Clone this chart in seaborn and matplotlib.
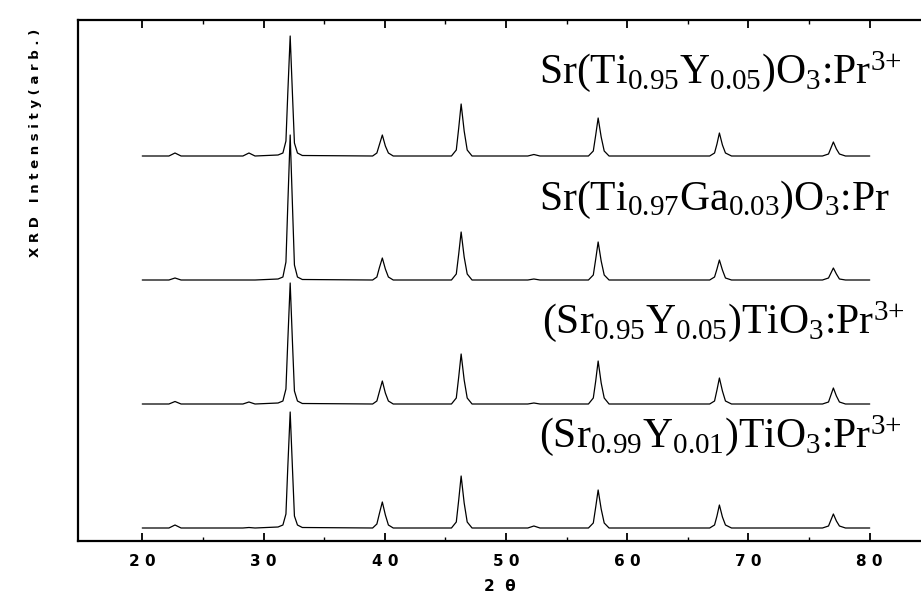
import numpy as np
import pandas as pd
import matplotlib
matplotlib.use("Agg")
import matplotlib.pyplot as plt
import seaborn as sns

# 2-theta grid (deg) shared by all four patterns
two_theta = [20.0, 22.2, 22.7, 23.2, 28.3, 28.8, 29.3, 31.2, 31.6, 31.85, 32.0, 32.2,
             32.4, 32.55, 32.8, 33.2, 39.0, 39.35, 39.55, 39.8, 40.05, 40.3, 40.7,
             45.5, 45.9, 46.1, 46.3, 46.55, 46.8, 47.2, 51.8, 52.3, 52.8, 56.8, 57.2,
             57.4, 57.6, 57.85, 58.1, 58.5, 66.8, 67.2, 67.4, 67.6, 67.85, 68.1, 68.6,
             76.1, 76.6, 76.8, 77.0, 77.25, 77.5, 78.0, 80.0]

# intensities (arb.), bottom pattern first
sr099_y001 = [0, 0, 3, 0, 0, 0.5, 0, 1, 3, 14, 60, 116, 56, 12, 3, 0.5,
              0, 4, 14, 26, 13, 3, 0, 0, 6, 28, 52, 25, 6, 0, 0, 2, 0,
              0, 5, 21, 38, 19, 5, 0, 0, 3, 12, 23, 11, 3, 0, 0, 2, 8, 14, 7, 2, 0, 0]
sr095_y005 = [0, 0, 2.5, 0, 0, 2, 0, 1, 3, 15, 62, 121, 58, 13, 3, 0.5,
              0, 3, 12, 23, 11, 3, 0, 0, 6, 27, 50, 24, 6, 0, 0, 1, 0,
              0, 6, 23, 43, 21, 6, 0, 0, 3, 14, 26, 13, 3, 0, 0, 2, 9, 16, 8, 2, 0, 0]
ti097_ga003 = [0, 0, 2, 0, 0, 0, 0, 1, 3, 18, 74, 145, 70, 15, 3, 0.5,
               0, 3, 12, 22, 11, 3, 0, 0, 6, 26, 48, 23, 6, 0, 0, 1, 0,
               0, 5, 21, 38, 19, 5, 0, 0, 3, 11, 20, 10, 2, 0, 0, 2, 7, 12, 6, 1, 0, 0]
ti095_y005 = [0, 0, 3, 0, 0, 3, 0, 1, 3, 15, 62, 120, 58, 13, 3, 0.5,
              0, 3, 11, 21, 10, 3, 0, 0, 6, 28, 52, 25, 6, 0, 0, 1.5, 0,
              0, 5, 21, 38, 19, 5, 0, 0, 3, 12, 23, 11, 3, 0, 0, 2, 8, 14, 7, 2, 0, 0]

samples = [
    r"(Sr$_{0.99}$Y$_{0.01}$)TiO$_3$:Pr$^{3{+}}$",
    r"(Sr$_{0.95}$Y$_{0.05}$)TiO$_3$:Pr$^{3{+}}$",
    r"Sr(Ti$_{0.97}$Ga$_{0.03}$)O$_3$:Pr",
    r"Sr(Ti$_{0.95}$Y$_{0.05}$)O$_3$:Pr$^{3{+}}$",
]
offsets = [13, 137, 261, 385]
patterns = [sr099_y001, sr095_y005, ti097_ga003, ti095_y005]

x_ticks = [20, 30, 40, 50, 60, 70, 80]

rows = []
for name, off, vals in zip(samples, offsets, patterns):
    for t, v in zip(two_theta, vals):
        rows.append({"two_theta": t, "intensity": v + off, "sample": name})
df = pd.DataFrame(rows)

sns.set_style("ticks")
plt.rcParams["mathtext.fontset"] = "custom"
plt.rcParams["mathtext.rm"] = "Liberation Serif"
plt.rcParams["mathtext.default"] = "regular"
plt.rcParams["text.color"] = "black"
plt.rcParams["xtick.color"] = "black"

fig = plt.figure(figsize=(9.21, 5.96), dpi=100)
ax = fig.add_axes([78 / 921, 55 / 596, 856 / 921, 521 / 596])

sns.lineplot(data=df, x="two_theta", y="intensity", units="sample", estimator=None,
             color="black", linewidth=0.9, ax=ax, sort=False)

ax.set_xlim(14.7, 85.3)
ax.set_ylim(0, 521)
ax.set_yticks([])
ax.set_xticks(x_ticks)
ax.set_xticks([t + 5 for t in x_ticks], minor=True)
ax.set_xticklabels([" ".join(str(t)) for t in x_ticks], fontweight="bold",
                   fontsize=11, family="DejaVu Sans", color="black")
ax.tick_params(axis="x", which="major", direction="in", length=6, width=1.3,
               top=True, pad=9)
ax.tick_params(axis="x", which="minor", direction="in", length=3, width=1.0, top=True)
for s in ax.spines.values():
    s.set_linewidth(1.6)
    s.set_color("black")
ax.set_xlabel("")
ax.set_ylabel("")

# sample labels
label_pos = [(539, 447), (542, 333), (539, 210), (539, 83)]
for name, (px, py) in zip(samples, label_pos):
    fig.text(px / 921, 1 - py / 596, name, fontsize=30, family="Liberation Serif",
             ha="left", va="baseline", color="black")

fig.text(35 / 921, 1 - 143 / 596, "X R D   I n t e n s i t y ( a r b . )",
         rotation=90, ha="center", va="center", fontsize=9.5, fontweight="bold",
         family="DejaVu Sans", color="black")
fig.text(500 / 921, 1 - 594 / 596, "2  θ", ha="center", va="bottom", fontsize=11,
         fontweight="bold", family="DejaVu Sans", color="black")

fig.savefig("out.png", dpi=100)
